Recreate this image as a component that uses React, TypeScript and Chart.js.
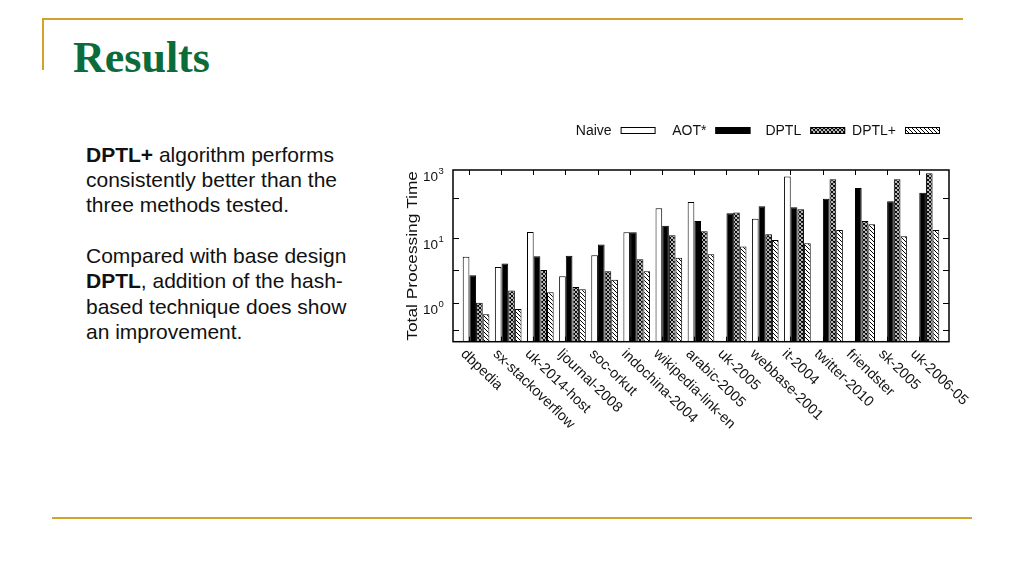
import React, { useEffect, useRef } from "react";
import { Chart, registerables } from "chart.js";

Chart.register(...registerables);

// ---------- data ----------
const CATEGORIES = [
  "dbpedia",
  "sx-stackoverflow",
  "uk-2014-host",
  "ljournal-2008",
  "soc-orkut",
  "indochina-2004",
  "wikipedia-link-en",
  "arabic-2005",
  "uk-2005",
  "webbase-2001",
  "it-2004",
  "twitter-2010",
  "friendster",
  "sk-2005",
  "uk-2006-05",
];
const SERIES_NAMES = ["Naive", "AOT*", "DPTL", "DPTL+"];
const NAIVE = [5.2, 3.6, 12.5, 2.6, 5.5, 12.4, 29, 36, null, 20, 89, null, null, null, null];
const AOT = [2.7, 4.1, 5.3, 5.4, 8.0, 12.4, 15.6, 18.5, 24.3, 31, 30, 40.5, 59, 37, 50];
const DPTL = [1.02, 1.58, 3.25, 1.78, 3.1, 4.75, 11.1, 12.8, 24.8, 11.5, 28, 81, 18.5, 81, 100];
const DPTL_PLUS = [0.68, 0.82, 1.48, 1.64, 2.3, 3.1, 5.0, 5.7, 7.5, 9.4, 8.4, 13.4, 16.4, 10.7, 13.4];

const Y_MIN = 0.257;
const Y_MAX = 112;
const Y_LABEL_VALUES = [1, 10, 112];
const Y_LABEL_EXPONENTS = ["0", "1", "3"];
const Y_TICK_MARKS = [0.39, 1, 3.2, 10, 41];
const Y_TITLE = "Total Processing Time";

const SLIDE_TITLE = "Results";

const FONT = "'Liberation Sans', Arial, Helvetica, sans-serif";

function makePattern(kind: "cross" | "diag"): CanvasPattern | string {
  const c = document.createElement("canvas");
  c.width = 4;
  c.height = 4;
  const g = c.getContext("2d");
  if (!g) return "#888";
  g.fillStyle = "#fff";
  g.fillRect(0, 0, 4, 4);
  g.strokeStyle = "#000";
  g.lineWidth = kind === "cross" ? 1.1 : 1;
  g.beginPath();
  // "\" direction
  g.moveTo(-1, -1);
  g.lineTo(5, 5);
  g.moveTo(-1, 3);
  g.lineTo(1, 5);
  g.moveTo(3, -1);
  g.lineTo(5, 1);
  if (kind === "cross") {
    // "/" direction
    g.moveTo(-1, 5);
    g.lineTo(5, -1);
    g.moveTo(-1, 1);
    g.lineTo(1, -1);
    g.moveTo(3, 5);
    g.lineTo(5, 3);
  }
  g.stroke();
  const p = g.createPattern(c, "repeat");
  return p || "#888";
}

const decorPlugin = {
  id: "decor",
  afterDraw(chart: any) {
    const { ctx, chartArea: a, scales } = chart;
    const xs = scales.x;
    const ys = scales.y;
    const L = a.left - 7;
    const R = a.right + 7;
    const T = a.top;
    const B = a.bottom;
    ctx.save();

    // frame
    ctx.strokeStyle = "#000";
    ctx.lineWidth = 1.5;
    ctx.strokeRect(L, T, R - L, B - T);

    // y tick marks (inward, both sides)
    ctx.lineWidth = 1;
    ctx.beginPath();
    for (const v of Y_TICK_MARKS) {
      const py = Math.round(ys.getPixelForValue(v)) + 0.5;
      ctx.moveTo(L, py);
      ctx.lineTo(L + 6, py);
      ctx.moveTo(R, py);
      ctx.lineTo(R - 6, py);
    }
    // x tick marks (inward, top and bottom)
    CATEGORIES.forEach((_, i) => {
      const px = Math.round(xs.getPixelForValue(i) - 7) + 0.5;
      ctx.moveTo(px, B);
      ctx.lineTo(px, B - 5);
      ctx.moveTo(px, T);
      ctx.lineTo(px, T + 5);
    });
    ctx.stroke();

    // y labels 10^n
    ctx.fillStyle = "#111";
    Y_LABEL_VALUES.forEach((v, k) => {
      const py = ys.getPixelForValue(v);
      ctx.font = `13.5px ${FONT}`;
      ctx.textAlign = "right";
      ctx.textBaseline = "alphabetic";
      ctx.fillText("10", L - 15, py + 10.5);
      ctx.font = `9.5px ${FONT}`;
      ctx.textAlign = "left";
      ctx.fillText(Y_LABEL_EXPONENTS[k], L - 14.5, py + 3.5);
    });

    // y title (rotated, stretched along its length)
    ctx.save();
    ctx.font = `14.5px ${FONT}`;
    const tw = ctx.measureText(Y_TITLE).width;
    const targetLen = B - T - 2;
    ctx.translate(L - 36, (T + B) / 2);
    ctx.rotate(-Math.PI / 2);
    ctx.scale(targetLen / tw, 1);
    ctx.textAlign = "center";
    ctx.textBaseline = "alphabetic";
    ctx.fillText(Y_TITLE, 0, 0);
    ctx.restore();

    // x labels, rotated clockwise
    ctx.font = `14.5px ${FONT}`;
    CATEGORIES.forEach((lab, i) => {
      const px = xs.getPixelForValue(i) - 8;
      ctx.save();
      ctx.translate(px, B + 5);
      ctx.rotate((44 * Math.PI) / 180);
      ctx.textAlign = "left";
      ctx.textBaseline = "top";
      ctx.fillText(lab, 0, 0);
      ctx.restore();
    });

    // legend: text then sample box
    const datasets = chart.data.datasets;
    const boxW = 35;
    const boxH = 7;
    const step = 94.8;
    const lastBoxX = R - 9 - boxW;
    const legendY = T - 43;
    ctx.font = `14px ${FONT}`;
    datasets.forEach((ds: any, k: number) => {
      const bx = lastBoxX - (datasets.length - 1 - k) * step;
      ctx.fillStyle = ds.backgroundColor;
      ctx.fillRect(bx, legendY, boxW, boxH);
      ctx.strokeStyle = "#000";
      ctx.lineWidth = 1;
      ctx.strokeRect(bx + 0.5, legendY + 0.5, boxW - 1, boxH - 1);
      ctx.fillStyle = "#111";
      ctx.textAlign = "right";
      ctx.textBaseline = "alphabetic";
      ctx.fillText(ds.label, bx - 9, legendY + 8);
    });

    ctx.restore();
  },
};

function ResultsChart() {
  const ref = useRef<HTMLCanvasElement | null>(null);
  useEffect(() => {
    const canvas = ref.current;
    if (!canvas) return;
    const cross = makePattern("cross");
    const diag = makePattern("diag");
    const fills = ["#ffffff", "#000000", cross, diag];
    const series = [NAIVE, AOT, DPTL, DPTL_PLUS];
    const chart = new Chart(canvas, {
      type: "bar",
      data: {
        labels: CATEGORIES,
        datasets: series.map((d, k) => ({
          label: SERIES_NAMES[k],
          data: d as any,
          backgroundColor: fills[k] as any,
          borderColor: "#000",
          borderWidth: 1,
          borderSkipped: "bottom",
          categoryPercentage: 0.83,
          barPercentage: 1.0,
        })),
      },
      options: {
        responsive: false,
        devicePixelRatio: 1,
        animation: false,
        layout: {
          padding: { left: 460, right: 82, top: 170, bottom: 234.3 },
        },
        plugins: {
          legend: { display: false },
          tooltip: { enabled: false },
          title: { display: false },
        },
        scales: {
          x: {
            type: "category",
            display: false,
            offset: true,
          },
          y: {
            type: "logarithmic",
            display: false,
            min: Y_MIN,
            max: Y_MAX,
          },
        },
      },
      plugins: [decorPlugin],
    });
    return () => chart.destroy();
  }, []);
  return (
    <canvas
      ref={ref}
      width={1024}
      height={576}
      style={{ position: "absolute", left: 0, top: 0, display: "block" }}
    />
  );
}

export default function App() {
  const gold = "#D2A22A";
  return (
    <div
      style={{
        position: "absolute",
        left: 0,
        top: 0,
        width: 1024,
        height: 576,
        background: "#fff",
        overflow: "hidden",
        fontFamily: FONT,
      }}
    >
      <div style={{ position: "absolute", left: 42, top: 18, width: 921, height: 2, background: gold }} />
      <div style={{ position: "absolute", left: 42, top: 18, width: 2, height: 52, background: gold }} />
      <div style={{ position: "absolute", left: 52, top: 517, width: 920, height: 2, background: gold }} />
      <div
        style={{
          position: "absolute",
          left: 73,
          top: 36.4,
          fontFamily: "'Liberation Serif', 'Times New Roman', serif",
          fontWeight: "bold",
          fontSize: 44,
          lineHeight: "44px",
          color: "#0B6B3A",
          whiteSpace: "nowrap",
        }}
      >
        {SLIDE_TITLE}
      </div>
      <div
        style={{
          position: "absolute",
          left: 86,
          top: 141.8,
          fontSize: 21,
          lineHeight: "25.3px",
          color: "#111",
          whiteSpace: "nowrap",
        }}
      >
        <div>
          <b>DPTL+</b> algorithm performs
        </div>
        <div>consistently better than the</div>
        <div>three methods tested.</div>
        <div>&nbsp;</div>
        <div>Compared with base design</div>
        <div>
          <b>DPTL</b>, addition of the hash-
        </div>
        <div>based technique does show</div>
        <div>an improvement.</div>
      </div>
      <ResultsChart />
    </div>
  );
}
